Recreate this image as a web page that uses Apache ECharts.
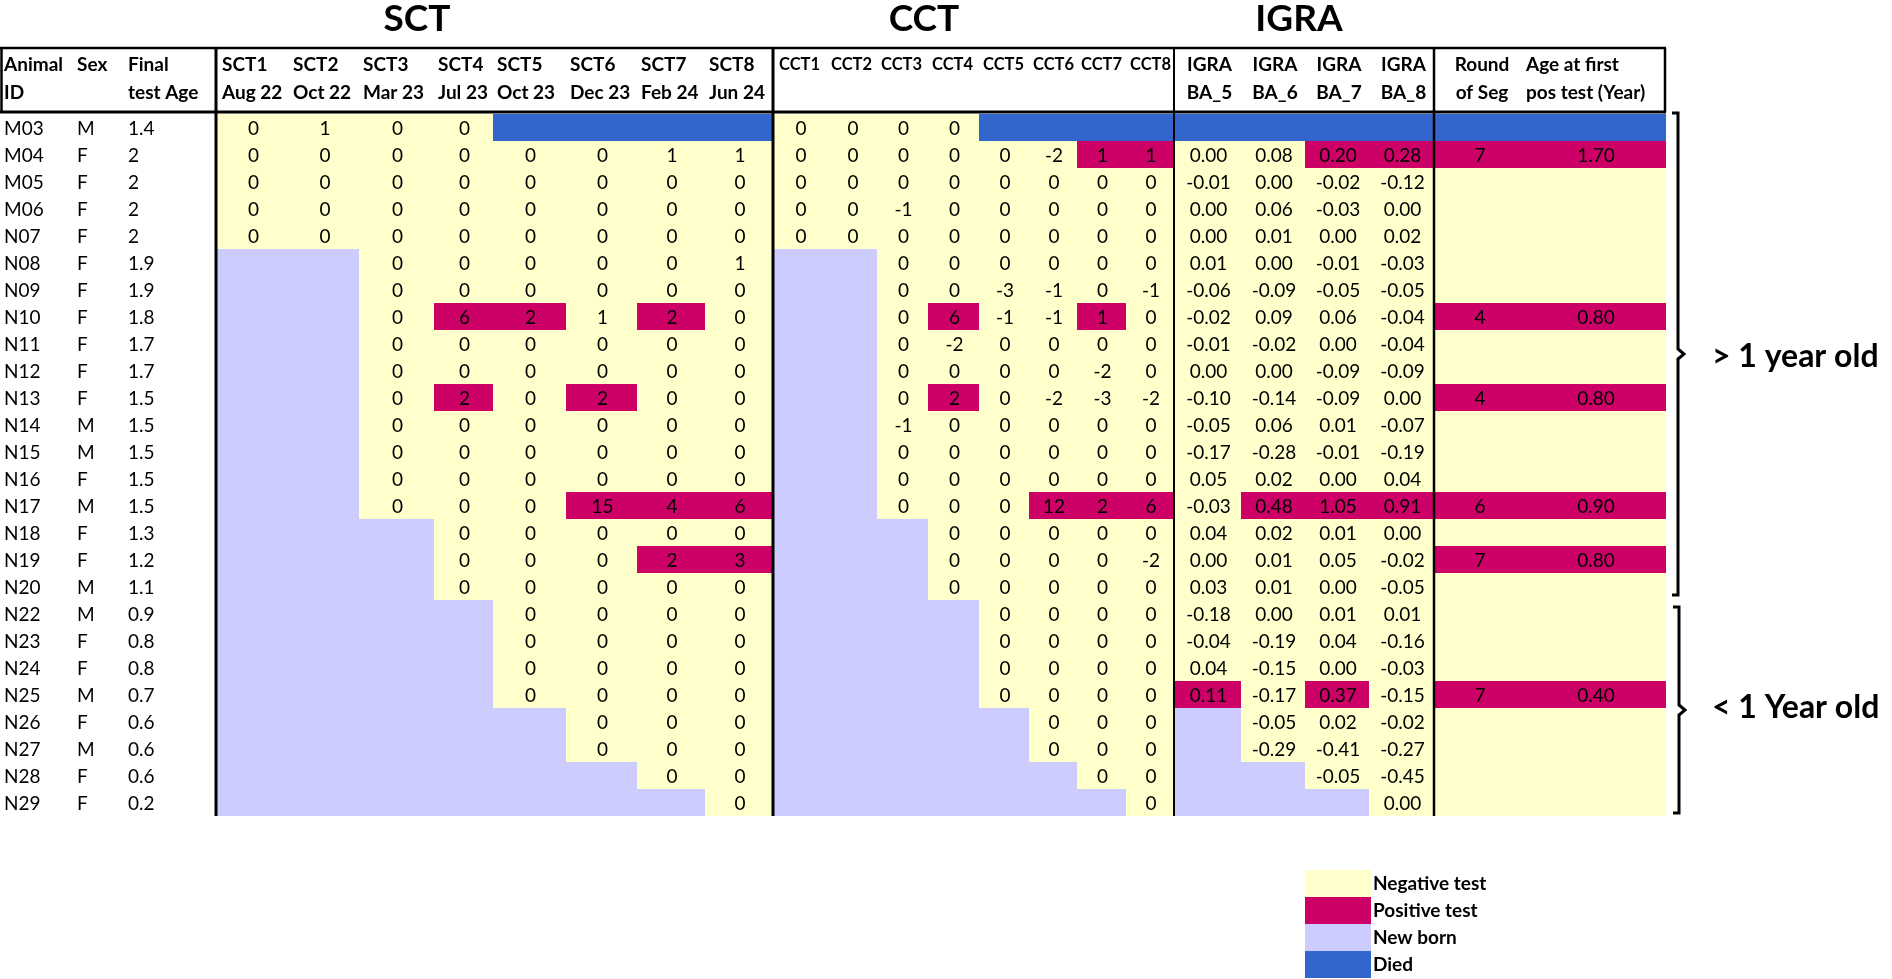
<!DOCTYPE html>
<html>
<head>
<meta charset="utf-8">
<script src="https://cdn.jsdelivr.net/npm/echarts@6/dist/echarts.min.js"></script>
<style>
  html, body { margin: 0; padding: 0; background: #fff; }
  #chart { width: 1892px; height: 979px; }
</style>
</head>
<body>
<div id="chart"></div>
<script>
const _ = null;      // new born (not yet tested)
const D = 'D';       // died

const ids = ['M03','M04','M05','M06','N07','N08','N09','N10','N11','N12','N13','N14','N15',
             'N16','N17','N18','N19','N20','N22','N23','N24','N25','N26','N27','N28','N29'];
const sexes = ['M','F','F','F','F','F','F','F','F','F','F','M','M',
               'F','M','F','F','M','M','F','F','M','F','M','F','F'];
const finalAge = [1.4,2,2,2,2,1.9,1.9,1.8,1.7,1.7,1.5,1.5,1.5,
                  1.5,1.5,1.3,1.2,1.1,0.9,0.8,0.8,0.7,0.6,0.6,0.6,0.2];

const sctNames = ['SCT1','SCT2','SCT3','SCT4','SCT5','SCT6','SCT7','SCT8'];
const sctDates = ['Aug 22','Oct 22','Mar 23','Jul 23','Oct 23','Dec 23','Feb 24','Jun 24'];
const cctNames = ['CCT1','CCT2','CCT3','CCT4','CCT5','CCT6','CCT7','CCT8'];
const igraNames = ['BA_5','BA_6','BA_7','BA_8'];

const sct = [
  [0,1,0,0,D,D,D,D],
  [0,0,0,0,0,0,1,1],
  [0,0,0,0,0,0,0,0],
  [0,0,0,0,0,0,0,0],
  [0,0,0,0,0,0,0,0],
  [_,_,0,0,0,0,0,1],
  [_,_,0,0,0,0,0,0],
  [_,_,0,6,2,1,2,0],
  [_,_,0,0,0,0,0,0],
  [_,_,0,0,0,0,0,0],
  [_,_,0,2,0,2,0,0],
  [_,_,0,0,0,0,0,0],
  [_,_,0,0,0,0,0,0],
  [_,_,0,0,0,0,0,0],
  [_,_,0,0,0,15,4,6],
  [_,_,_,0,0,0,0,0],
  [_,_,_,0,0,0,2,3],
  [_,_,_,0,0,0,0,0],
  [_,_,_,_,0,0,0,0],
  [_,_,_,_,0,0,0,0],
  [_,_,_,_,0,0,0,0],
  [_,_,_,_,0,0,0,0],
  [_,_,_,_,_,0,0,0],
  [_,_,_,_,_,0,0,0],
  [_,_,_,_,_,_,0,0],
  [_,_,_,_,_,_,_,0]
];

const cct = [
  [0,0,0,0,D,D,D,D],
  [0,0,0,0,0,-2,1,1],
  [0,0,0,0,0,0,0,0],
  [0,0,-1,0,0,0,0,0],
  [0,0,0,0,0,0,0,0],
  [_,_,0,0,0,0,0,0],
  [_,_,0,0,-3,-1,0,-1],
  [_,_,0,6,-1,-1,1,0],
  [_,_,0,-2,0,0,0,0],
  [_,_,0,0,0,0,-2,0],
  [_,_,0,2,0,-2,-3,-2],
  [_,_,-1,0,0,0,0,0],
  [_,_,0,0,0,0,0,0],
  [_,_,0,0,0,0,0,0],
  [_,_,0,0,0,12,2,6],
  [_,_,_,0,0,0,0,0],
  [_,_,_,0,0,0,0,-2],
  [_,_,_,0,0,0,0,0],
  [_,_,_,_,0,0,0,0],
  [_,_,_,_,0,0,0,0],
  [_,_,_,_,0,0,0,0],
  [_,_,_,_,0,0,0,0],
  [_,_,_,_,_,0,0,0],
  [_,_,_,_,_,0,0,0],
  [_,_,_,_,_,_,0,0],
  [_,_,_,_,_,_,_,0]
];

const igra = [
  [D,D,D,D],
  [0.00,0.08,0.20,0.28],
  [-0.01,0.00,-0.02,-0.12],
  [0.00,0.06,-0.03,0.00],
  [0.00,0.01,0.00,0.02],
  [0.01,0.00,-0.01,-0.03],
  [-0.06,-0.09,-0.05,-0.05],
  [-0.02,0.09,0.06,-0.04],
  [-0.01,-0.02,0.00,-0.04],
  [0.00,0.00,-0.09,-0.09],
  [-0.10,-0.14,-0.09,0.00],
  [-0.05,0.06,0.01,-0.07],
  [-0.17,-0.28,-0.01,-0.19],
  [0.05,0.02,0.00,0.04],
  [-0.03,0.48,1.05,0.91],
  [0.04,0.02,0.01,0.00],
  [0.00,0.01,0.05,-0.02],
  [0.03,0.01,0.00,-0.05],
  [-0.18,0.00,0.01,0.01],
  [-0.04,-0.19,0.04,-0.16],
  [0.04,-0.15,0.00,-0.03],
  [0.11,-0.17,0.37,-0.15],
  [_,-0.05,0.02,-0.02],
  [_,-0.29,-0.41,-0.27],
  [_,_,-0.05,-0.45],
  [_,_,_,0.00]
];

const roundOfSeg = [D,7,_,_,_,_,_,4,_,_,4,_,_,_,6,_,7,_,_,_,_,7,_,_,_,_];
const ageFirstPos = [D,1.70,_,_,_,_,_,0.80,_,_,0.80,_,_,_,0.90,_,0.80,_,_,_,_,0.40,_,_,_,_];

// positive tests: [animal, column index]
const sctPositive = [['N10',3],['N10',4],['N10',6],['N13',3],['N13',5],
                     ['N17',5],['N17',6],['N17',7],['N19',6],['N19',7]];
const cctPositive = [['M04',6],['M04',7],['N10',3],['N10',6],['N13',3],
                     ['N17',5],['N17',6],['N17',7]];
const igraPositive = [['M04',2],['M04',3],['N17',1],['N17',2],['N17',3],['N25',0],['N25',2]];

// ---- layout (pixel units of the table grid) ----
const sctEdges = [216,289,359,434,493,566,637,705,773];
const cctEdges = [773,827,877,928,979,1029,1077,1126,1174];
const igraEdges = [1174,1241,1305,1369,1434];
const segEdges = [1434,1524,1666];
const tableW = 1666, headTop = 48, headBot = 112, bodyTop = 114, rowH = 27;
const FONT = 'Lato';

const statusNames = ['Negative test','Positive test','New born','Died'];
const statusColors = ['#FFFFCC','#CC0066','#CCCCFF','#3366CC'];
const cells = statusNames.map(() => ({ data: [], texts: [] }));

function addCell(status, x0, x1, row, text) {
  cells[status].data.push([x0, x1, row]);
  cells[status].texts.push(text);
}

function addBlock(values, edges, positives, fmt) {
  values.forEach((rowVals, r) => {
    rowVals.forEach((v, c) => {
      let st;
      if (v === null) st = 2;
      else if (v === D) st = 3;
      else st = positives.some(p => p[0] === ids[r] && p[1] === c) ? 1 : 0;
      addCell(st, edges[c], edges[c + 1], r, st < 2 ? fmt(v) : '');
    });
  });
}
addBlock(sct, sctEdges, sctPositive, v => String(v));
addBlock(cct, cctEdges, cctPositive, v => String(v));
addBlock(igra, igraEdges, igraPositive, v => v.toFixed(2));

roundOfSeg.forEach((v, r) => {
  const a = ageFirstPos[r];
  if (v === D) {
    addCell(3, segEdges[0], segEdges[1], r, '');
    addCell(3, segEdges[1], segEdges[2], r, '');
  } else if (v === null) {
    addCell(0, segEdges[0], segEdges[1], r, '');
    addCell(0, segEdges[1], segEdges[2], r, '');
  } else {
    addCell(1, segEdges[0], segEdges[1], r, String(v));
    addCell(1, segEdges[1], segEdges[2], r, a.toFixed(2));
  }
});

// left info columns
const infoX = [4, 77, 128];
const infoData = [], infoTexts = [];
ids.forEach((id, r) => {
  [id, sexes[r], String(finalAge[r])].forEach((t, k) => {
    infoData.push([infoX[k], r]);
    infoTexts.push(t);
  });
});

function cellRenderer(texts, fill) {
  return function (params, api) {
    const row = api.value(2);
    const a = api.coord([api.value(0), row]);
    const b = api.coord([api.value(1), row]);
    const h = api.size([0, 1])[1];
    const children = [{
      type: 'rect',
      shape: { x: a[0], y: a[1] - h / 2, width: b[0] - a[0], height: h },
      style: { fill: fill }
    }];
    const t = texts[params.dataIndex];
    if (t) {
      children.push({
        type: 'text',
        style: { text: t, x: (a[0] + b[0]) / 2 + 1, y: a[1] + 1, align: 'center', verticalAlign: 'middle',
                 fontFamily: FONT, fontSize: 19, fill: '#000' }
      });
    }
    return { type: 'group', children: children };
  };
}

const series = statusNames.map((name, i) => ({
  name: name,
  type: 'custom',
  coordinateSystem: 'cartesian2d',
  encode: { x: [0, 1], y: 2 },
  itemStyle: { color: statusColors[i] },
  renderItem: cellRenderer(cells[i].texts, statusColors[i]),
  data: cells[i].data,
  silent: true
}));

series.push({
  name: 'info',
  type: 'custom',
  coordinateSystem: 'cartesian2d',
  encode: { x: 0, y: 1 },
  renderItem: function (params, api) {
    const p = api.coord([api.value(0), api.value(1)]);
    return {
      type: 'text',
      style: { text: infoTexts[params.dataIndex], x: p[0], y: p[1] + 1, align: 'left', verticalAlign: 'middle',
               fontFamily: FONT, fontSize: 19, fill: '#000' }
    };
  },
  data: infoData,
  silent: true
});

// ---- header, borders, brackets ----
const graphic = [];
function txt(text, x, y, opts) {
  graphic.push(Object.assign({
    type: 'text', z: 100,
    style: Object.assign({ text: text, x: x, y: y, fontFamily: FONT, fontSize: 19, fontWeight: 'bold',
                           fill: '#000', align: 'left', verticalAlign: 'middle' }, opts || {})
  }));
}
function line(x1, y1, x2, y2, w) {
  graphic.push({ type: 'line', z: 110, shape: { x1: x1, y1: y1, x2: x2, y2: y2 },
                 style: { stroke: '#000', lineWidth: w } });
}

// block titles
txt('SCT', 417, 19, { fontSize: 37, align: 'center' });
txt('CCT', 924, 19, { fontSize: 37, align: 'center' });
txt('IGRA', 1299, 19, { fontSize: 37, align: 'center' });

const h1 = 65, h2 = 93;
txt('Animal', 4, h1); txt('ID', 4, h2);
txt('Sex', 77, h1);
txt('Final', 128, h1); txt('test Age', 128, h2);
sctNames.forEach((n, i) => {
  const x = sctEdges[i] + (i === 0 ? 6 : 4);
  txt(n, x, h1); txt(sctDates[i], x, h2);
});
cctNames.forEach((n, i) => txt(n, cctEdges[i] + (i === 0 ? 6 : 4), h1, { fontSize: 16.5 }));
igraNames.forEach((n, i) => {
  const x = (igraEdges[i] + igraEdges[i + 1]) / 2 + 2;
  txt('IGRA', x, h1, { align: 'center' }); txt(n, x, h2, { align: 'center' });
});
txt('Round', (segEdges[0] + segEdges[1]) / 2 + 3, h1, { align: 'center' });
txt('of Seg', (segEdges[0] + segEdges[1]) / 2 + 3, h2, { align: 'center' });
txt('Age at first', segEdges[1] + 2, h1);
txt('pos test (Year)', segEdges[1] + 2, h2);

// header box
line(0, headTop, tableW, headTop, 2.5);
line(0, headBot, tableW, headBot, 3);
[1.5, tableW - 1].forEach(x => line(x, headTop, x, headBot, 2.5));
const bodyBot = bodyTop + ids.length * rowH;
[[sctEdges[0], 3], [cctEdges[0], 3], [igraEdges[0], 2], [segEdges[0], 2.5]].forEach(d => {
  line(d[0], headTop, d[0], bodyBot, d[1]);
});

// age brackets: > 1 year (M03..N20), < 1 year (N22..N29)
function bracket(y0, y1, x) {
  const m = (y0 + y1) / 2;
  graphic.push({ type: 'polyline', z: 110,
    shape: { points: [[x - 6, y0], [x, y0], [x, m - 5], [x + 6, m], [x, m + 5], [x, y1], [x - 6, y1]] },
    style: { stroke: '#000', lineWidth: 3, fill: null } });
}
bracket(bodyTop - 1, bodyTop + 18 * rowH - 5, 1678);
bracket(bodyTop + 18 * rowH + 7, bodyBot - 3, 1679);
txt('> 1 year old', 1712, (bodyTop + bodyTop + 18 * rowH) / 2, { fontSize: 32 });
txt('< 1 Year old', 1712, (bodyTop + 18 * rowH + bodyBot) / 2, { fontSize: 32 });

const chart = echarts.init(document.getElementById('chart'), null, { renderer: 'canvas' });
chart.setOption({
  animation: false,
  backgroundColor: '#fff',
  grid: { left: 0, top: bodyTop, width: tableW, height: ids.length * rowH },
  xAxis: { type: 'value', min: 0, max: tableW, show: false },
  yAxis: { type: 'category', data: ids, inverse: true, show: false },
  legend: {
    data: statusNames,
    orient: 'vertical',
    left: 1305, top: 870,
    padding: 0,
    icon: 'rect',
    itemWidth: 66, itemHeight: 27, itemGap: 0,
    textStyle: { fontFamily: FONT, fontSize: 19, fontWeight: 'bold', color: '#000', padding: [0, 0, 0, -3] }
  },
  series: series,
  graphic: graphic
});
</script>
</body>
</html>
